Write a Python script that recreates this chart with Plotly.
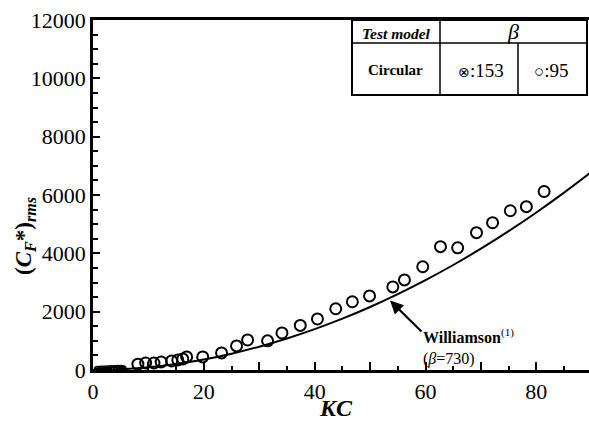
import plotly.graph_objects as go

# ---- data ----
kc_95 = [8.1, 9.5, 11.0, 12.3, 14.2, 15.3, 16.2, 16.9, 19.8, 23.2, 25.9, 27.9, 31.5,
         34.1, 37.4, 40.5, 43.8, 46.8, 49.9, 54.1, 56.2, 59.5, 62.7, 65.8, 69.2,
         72.1, 75.3, 78.2, 81.4]
cf_95 = [200, 240, 240, 275, 310, 345, 380, 450, 450, 585, 825, 1030, 1000,
         1270, 1530, 1750, 2100, 2340, 2540, 2850, 3090, 3540, 4230, 4190, 4710,
         5050, 5460, 5600, 6120]

kc_153 = [0.8, 1.4, 2.0, 2.6, 3.2, 3.8, 4.4, 5.0, 5.4]
cf_153 = [20, 25, 30, 35, 40, 45, 50, 55, 40]

kc_will = [0, 5, 10, 15, 20, 25, 30, 35, 40, 45, 50, 55, 60, 65, 70, 75, 80, 85, 90]
cf_will = [0, 25, 95, 205, 360, 560, 800, 1080, 1400, 1760, 2160, 2600, 3080,
           3600, 4160, 4760, 5400, 6080, 6800]

x_tickvals = [0, 10, 20, 30, 40, 50, 60, 70, 80]
x_ticktext = ["0", "", "20", "", "40", "", "60", "", "80"]
y_tickvals = [0, 2000, 4000, 6000, 8000, 10000, 12000]
y_ticktext = ["0", "2000", "4000", "6000", "8000", "10000", "12000"]

SERIF = "Liberation Serif"
XMAX = 89.5

fig = go.Figure()
fig.add_trace(go.Scatter(x=kc_will, y=cf_will, mode="lines",
                         line=dict(color="black", width=2, shape="spline"),
                         showlegend=False, hoverinfo="skip"))
fig.add_trace(go.Scatter(x=kc_95, y=cf_95, mode="markers",
                         marker=dict(symbol="circle-open", size=11, color="black",
                                     line=dict(width=2)),
                         showlegend=False))
fig.add_trace(go.Scatter(x=kc_153, y=cf_153, mode="markers",
                         marker=dict(symbol="circle-x-open", size=6, color="black",
                                     line=dict(width=1.5)),
                         showlegend=False))

axis_common = dict(showgrid=False, zeroline=False, showline=True, linecolor="black",
                   linewidth=2.5, ticks="inside", tickcolor="black", tickwidth=2,
                   tickfont=dict(family=SERIF, size=22, color="black"))

fig.update_xaxes(range=[0, XMAX], tickmode="array", tickvals=x_tickvals,
                 ticktext=x_ticktext, ticklen=8, mirror=True,
                 minor=dict(dtick=5, ticks="inside", ticklen=4, tickwidth=1.5,
                            tickcolor="black"),
                 **axis_common)
fig.update_yaxes(range=[0, 12000], tickmode="array", tickvals=y_tickvals,
                 ticktext=y_ticktext, ticklen=7,
                 minor=dict(dtick=500, ticks="inside", ticklen=5, tickwidth=1.5,
                            tickcolor="black"),
                 **axis_common)

L, R, T, B = 93, 589, 20, 370
W, H = 589, 425


def px(x):
    return (x - L) / (R - L)


def py(y):
    return (B - y) / (B - T)


# table
tl, tr, tt, tm, tb = px(352), px(587), py(20), py(43), py(95)
c1, c2 = px(440), px(518)
shapes = [
    dict(type="rect", xref="paper", yref="paper", x0=tl, x1=tr, y0=tb, y1=tt,
         line=dict(color="black", width=2), fillcolor="white", layer="above"),
    dict(type="line", xref="paper", yref="paper", x0=tl, x1=tr, y0=tm, y1=tm,
         line=dict(color="black", width=1.5)),
    dict(type="line", xref="paper", yref="paper", x0=c1, x1=c1, y0=tb, y1=tt,
         line=dict(color="black", width=1.5)),
    dict(type="line", xref="paper", yref="paper", x0=c2, x1=c2, y0=tb, y1=tm,
         line=dict(color="black", width=1.5)),
]


def label(xp, yp, text, size, **kw):
    d = dict(xref="paper", yref="paper", x=px(xp), y=py(yp), text=text,
             showarrow=False, xanchor="center", yanchor="middle",
             font=dict(family=SERIF, size=size, color="black"))
    d.update(kw)
    return d


annotations = [
    label(396, 33, "<b><i>Test model</i></b>", 15.5),
    label(513, 32, "<i>β</i>", 22),
    label(395, 70, "<b>Circular</b>", 15),
    label(481, 70, "<span style='font-size:14px'>⊗</span>:153", 19),
    label(551, 70, "<span style='font-size:17px'>○</span>:95", 19),
    # axis titles
    label(336, 408, "<b><i>KC</i></b>", 24),
    label(25, 236, "<b>(<i>C<sub>F</sub></i>*)<sub><i>rms</i></sub></b>", 23,
          textangle=-90),
    # Williamson label
    label(421, 347, "<b>Williamson</b><sup>(1)</sup><br>(<i>β</i>=730)", 16,
          xanchor="left", align="left"),
]

# arrow from the label to the curve
annotations.append(dict(x=53.6, y=2380, xref="x", yref="y",
                        ax=(423 - L) / (R - L) * XMAX, ay=(B - 333) / (B - T) * 12000,
                        axref="x", ayref="y", text="", showarrow=True,
                        arrowhead=2, arrowsize=1.2, arrowwidth=2.2, arrowcolor="black"))

fig.update_layout(width=W, height=H, margin=dict(l=L, r=W - R, t=T, b=H - B),
                  plot_bgcolor="white", paper_bgcolor="white",
                  shapes=shapes, annotations=annotations, showlegend=False)

fig.write_html("out.html", config={"displayModeBar": False},
               post_script="document.body.style.margin='0';")
